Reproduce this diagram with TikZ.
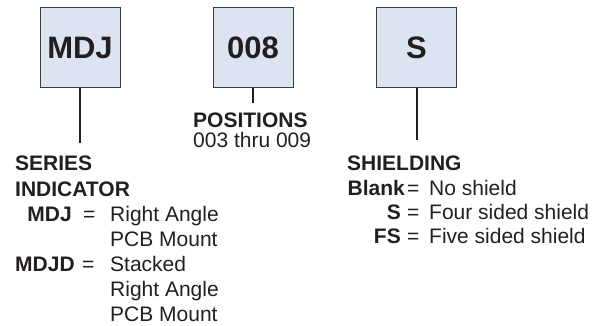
\documentclass[tikz,border=0pt]{standalone}
\usepackage{fontspec}
\setmainfont{Liberation Sans}
\definecolor{boxfill}{HTML}{DCE3F1}
\definecolor{boxline}{HTML}{3C3C3C}
\definecolor{ink}{HTML}{231F20}
\begin{document}
\begin{tikzpicture}[x=1pt,y=-1pt,
  box/.style={draw=boxline, line width=1pt, fill=boxfill, minimum width=80pt, minimum height=80pt, inner sep=0pt, font=\fontsize{31}{31}\selectfont\bfseries, text=ink},
  stem/.style={draw=ink, line width=2pt},
  txt/.style={inner sep=0pt, anchor=base west, font=\fontsize{21}{25}\selectfont, text=ink},
  btxt/.style={txt, font=\fontsize{21}{25}\selectfont\bfseries},
  rbtxt/.style={btxt, anchor=base east}]
\useasboundingbox (0,0) rectangle (605,326);
% boxes
\node[box] (mdj) at (80,47.5) {MDJ};
\node[box] (pos) at (253,47.5) {008};
\node[box] (shd) at (416.5,47.5) {S};
\coordinate (mdjend) at (80,143);
\coordinate (posend) at (253,103);
\coordinate (shdend) at (416.5,140);
\draw[stem] (mdj.south) -- (mdjend);
\draw[stem] (pos.south) -- (posend);
\draw[stem] (shd.south) -- (shdend);
% series indicator
\node[btxt] (ser1) at (15,170.5) {SERIES};
\node[btxt] (ser2) at (15,196) {INDICATOR};
\node[rbtxt] (l1) at (72,221) {MDJ};
\node[txt] (e1) at (83,221) {=};
\node[txt] (t1) at (110,221) {Right Angle};
\node[txt] (t2) at (110,246) {PCB Mount};
\node[btxt] (l2) at (15,271) {MDJD};
\node[txt] (e2) at (82,271) {=};
\node[txt] (t3) at (110,271) {Stacked};
\node[txt] (t4) at (110,296) {Right Angle};
\node[txt] (t5) at (110,321) {PCB Mount};
% positions
\node[btxt] (p1) at (193,128) {POSITIONS};
\node[txt] (p2) at (193,148) {003 thru 009};
% shielding
\node[btxt] (s0) at (347,170) {SHIELDING};
\node[rbtxt] (s1l) at (405,195) {Blank};
\node[txt] (s1e) at (407,195) {=};
\node[txt] (s1t) at (429,195) {No shield};
\node[rbtxt] (s2l) at (401,219) {S};
\node[txt] (s2e) at (407,219) {=};
\node[txt] (s2t) at (429,219) {Four sided shield};
\node[rbtxt] (s3l) at (401,243) {FS};
\node[txt] (s3e) at (407,243) {=};
\node[txt] (s3t) at (429,243) {Five sided shield};
\end{tikzpicture}
\end{document}
